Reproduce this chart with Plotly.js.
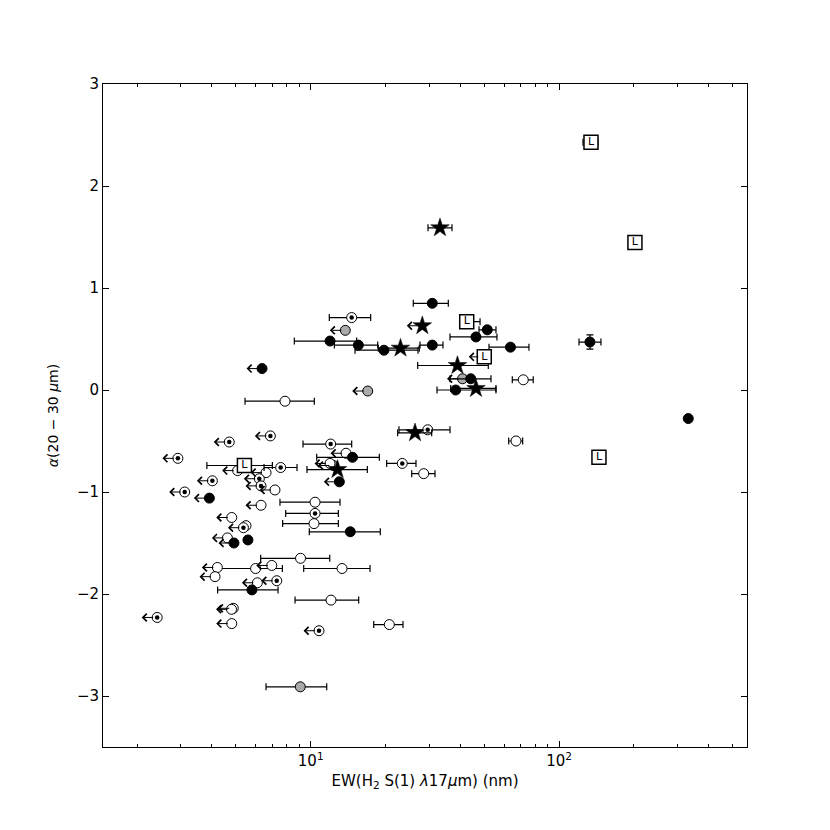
<!DOCTYPE html>
<html>
<head>
<meta charset="utf-8">
<script src="https://cdn.plot.ly/plotly-3.0.1.min.js"></script>
<style>body{margin:0;background:#fff}#plot{width:830px;height:830px}</style>
</head>
<body>
<div id="plot"></div>
<script>
// filled black circles
const blackX  = [133, 330.8, 30.85, 51.37, 11.96, 46.26, 15.55, 19.72, 30.85, 63.68, 44.06, 38.32, 6.37, 14.73, 13.04, 14.43, 3.91, 4.91, 5.59, 5.80];
const blackY  = [0.47, -0.28, 0.85, 0.59, 0.48, 0.52, 0.44, 0.39, 0.44, 0.42, 0.11, 0.0, 0.21, -0.66, -0.90, -1.39, -1.06, -1.50, -1.47, -1.96];
const blackLo = [120.2, null, 25.87, 47.57, 8.59, 36.36, 12.45, 15.08, 27.54, 52.19, 36.36, 32.23, null, 10.57, null, 9.87, null, null, null, 4.22];
const blackHi = [147.3, null, 35.79, 55.68, 15.31, 56.19, 18.61, 27.03, 34.07, 75.58, 53.16, 55.68, null, 18.89, null, 19.06, null, null, null, 7.39];
const blackUL = [0,0,0,0,0,0,0,0,0,0,0,0,1,0,1,0,1,1,0,0];
const blackYErr = [0.07, null, null, null, null, null, null, null, null, null, null, null, null, null, null, null, null, null, null, null];

// open circles
const openX  = [71.7, 7.88, 67.03, 13.87, 28.5, 10.41, 10.31, 9.10, 13.37, 12.07, 20.72, 5.08, 6.61, 7.18, 6.31, 4.81, 5.49, 4.62, 4.21, 6.0, 6.97, 4.12, 6.10, 4.88, 4.80, 4.81, 11.96];
const openY  = [0.10, -0.11, -0.50, -0.62, -0.82, -1.10, -1.31, -1.65, -1.75, -2.06, -2.30, -0.79, -0.81, -0.98, -1.13, -1.25, -1.33, -1.45, -1.74, -1.75, -1.72, -1.83, -1.89, -2.14, -2.15, -2.29, -0.72];
const openLo = [64.76, 5.44, 62.65, null, 25.5, 7.52, 7.71, 6.29, 9.37, 8.65, 17.93, null, null, null, null, null, null, null, null, 4.21, null, null, null, null, null, null, null];
const openHi = [78.65, 10.34, 71.3, null, 31.64, 13.12, 12.92, 11.93, 17.33, 15.6, 23.52, null, null, null, null, null, null, null, null, 7.69, null, null, null, null, null, null, null];
const openUL = [0,0,0,1,0,0,0,0,0,0,0,1,1,1,1,1,0,1,1,0,1,1,1,1,1,1,1];

// open circles with a central dot
const dotX  = [14.62, 29.57, 12.03, 23.36, 6.88, 4.70, 2.92, 7.57, 4.02, 6.21, 6.31, 3.11, 10.41, 5.36, 7.30, 2.41, 10.80];
const dotY  = [0.71, -0.39, -0.53, -0.72, -0.45, -0.51, -0.67, -0.76, -0.89, -0.87, -0.94, -1.00, -1.21, -1.35, -1.87, -2.23, -2.36];
const dotLo = [11.88, 22.66, 9.31, 20.22, null, null, null, 6.49, null, null, null, null, 7.93, null, null, null, null];
const dotHi = [17.43, 36.36, 14.62, 26.53, null, null, null, 8.81, null, null, null, null, 12.92, null, null, null, null];
const dotUL = [0,0,0,0,1,1,1,0,1,1,1,1,0,1,1,1,1];

// grey circles
const greyX  = [13.78, 40.82, 16.96, 12.33, 9.08];
const greyY  = [0.585, 0.11, -0.01, -0.74, -2.91];
const greyLo = [null, null, null, null, 6.61];
const greyHi = [null, null, null, null, 11.6];
const greyUL = [1, 1, 1, 1, 0];

// stars
const starX  = [33.14, 28.13, 22.98, 38.96, 46.26, 26.29, 12.82];
const starY  = [1.59, 0.63, 0.41, 0.24, 0.015, -0.42, -0.78];
const starLo = [29.65, null, 18.71, 26.95, 36.6, 22.39, 9.66];
const starHi = [37.04, null, 27.35, 51.85, 55.68, 30.68, 16.9];
const starUL = [0, 1, 0, 0, 0, 0, 0];

// "L" boxes
const boxX  = [134.3, 201.8, 144.6, 42.45, 49.95, 5.41];
const boxY  = [2.43, 1.445, -0.66, 0.67, 0.325, -0.74];
const boxLo = [124.7, null, null, 39.9, null, 3.82];
const boxHi = [143.2, null, null, 48.03, null, 7.01];
const boxUL = [0, 0, 0, 0, 1, 0];
const boxText = ['L', 'L', 'L', 'L', 'L', 'L'];

function errx(x, lo, hi) {
  return {
    type: 'data', symmetric: false,
    array: x.map((v, i) => hi[i] == null ? null : hi[i] - v),
    arrayminus: x.map((v, i) => lo[i] == null ? null : v - lo[i]),
    color: 'black', thickness: 1.2, width: 3.5
  };
}

function pts(x, y, lo, hi, marker) {
  return {
    x: x, y: y, type: 'scatter', mode: 'markers',
    error_x: errx(x, lo, hi),
    marker: marker, hoverinfo: 'x+y'
  };
}

let ring = {color: 'black', width: 1};
let traces = [
  pts(greyX, greyY, greyLo, greyHi, {symbol: 'circle', size: 10, color: '#aaaaaa', line: ring}),
  pts(openX, openY, openLo, openHi, {symbol: 'circle', size: 10, color: 'white', line: ring}),
  pts(dotX, dotY, dotLo, dotHi, {symbol: 'circle', size: 10, color: 'white', line: ring}),
  {x: dotX, y: dotY, type: 'scatter', mode: 'markers', marker: {size: 4.5, color: 'black'}, hoverinfo: 'skip'},
  pts(blackX, blackY, blackLo, blackHi, {symbol: 'circle', size: 10, color: 'black', line: ring}),
  pts(starX, starY, starLo, starHi, {symbol: 'star', size: 14, color: 'black', line: {color: 'black', width: 0.5}}),
  pts(boxX, boxY, boxLo, boxHi, {symbol: 'square', size: 14, color: 'white', line: {color: 'black', width: 1.5}})
];
// y error bar on the bright filled point
traces[4].error_y = {type: 'data', array: blackYErr, color: 'black', thickness: 1.2, width: 3.5};
// the letter inside each box
traces.push({
  x: boxX, y: boxY, type: 'scatter', mode: 'text', text: boxText,
  textposition: 'middle center', textfont: {family: 'DejaVu Sans', size: 11, color: 'black'},
  hoverinfo: 'skip'
});

// upper limits: leftward arrows
let annotations = [];
function arrows(x, y, ul, off) {
  x.forEach((v, i) => {
    if (!ul[i]) return;
    annotations.push({
      x: Math.log10(v), y: y[i], xref: 'x', yref: 'y',
      ax: -17, ay: 0, text: '', showarrow: true,
      arrowside: 'start', startarrowhead: 4, startarrowsize: 1.5,
      arrowwidth: 1, arrowcolor: 'black', standoff: off
    });
  });
}
arrows(greyX, greyY, greyUL, 4);
arrows(openX, openY, openUL, 4);
arrows(dotX, dotY, dotUL, 4);
arrows(blackX, blackY, blackUL, 4);
arrows(starX, starY, starUL, 5);
arrows(boxX, boxY, boxUL, 6);

let minorVals = [2,3,4,5,6,7,8,9,20,30,40,50,60,70,80,90,200,300,400,500];

let layout = {
  width: 830, height: 830,
  margin: {l: 103, r: 83, t: 84, b: 83},
  paper_bgcolor: 'white', plot_bgcolor: 'white',
  showlegend: false,
  font: {family: 'DejaVu Sans', size: 15, color: 'black'},
  xaxis: {
    type: 'log', range: [0.164, 2.756],
    tickvals: [10, 100], ticktext: ['10<sup>1</sup>', '10<sup>2</sup>'],
    ticks: 'inside', ticklen: 6, tickcolor: 'black', mirror: 'allticks',
    showline: true, linecolor: 'black', linewidth: 1,
    showgrid: false, zeroline: false,
    minor: {ticks: 'inside', ticklen: 3, tickcolor: 'black', tickvals: minorVals, showgrid: false},
    title: {text: 'EW(H<sub>2</sub> S(1) <i>λ</i>17<i>μ</i>m) (nm)', font: {size: 15}, standoff: 6}
  },
  yaxis: {
    range: [-3.5, 3], tickvals: [-3, -2, -1, 0, 1, 2, 3],
    ticks: 'inside', ticklen: 6, tickcolor: 'black', mirror: 'allticks',
    showline: true, linecolor: 'black', linewidth: 1,
    showgrid: false, zeroline: false,
    title: {text: '<i>α</i>(20 − 30 <i>μ</i>m)', font: {size: 14}, standoff: 14}
  },
  annotations: annotations
};

Plotly.newPlot('plot', traces, layout, {displayModeBar: false, staticPlot: true});
</script>
</body>
</html>
